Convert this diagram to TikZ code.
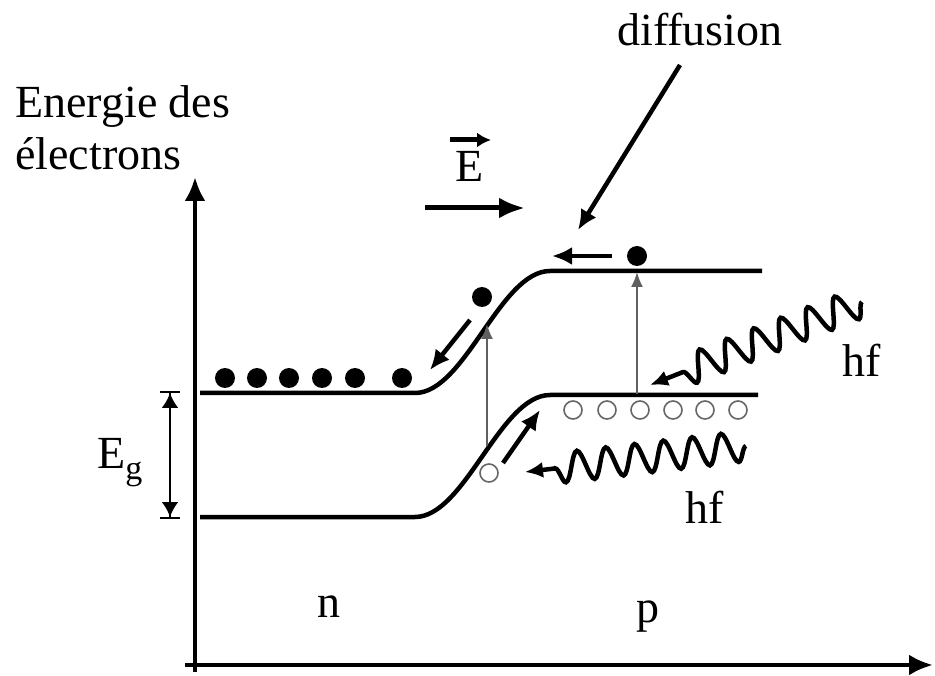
\documentclass[tikz,border=0pt]{standalone}
\usepackage{fontspec}
\setmainfont{Liberation Serif}
\usetikzlibrary{arrows.meta, decorations.pathmorphing}

\tikzset{
  lbl/.style={font=\fontsize{46}{52}\selectfont, inner sep=0pt},
  axis/.style={line width=4.5pt, -{Latex[length=24pt,width=21pt]}},
  band/.style={line width=4.5pt},
  flow/.style={line width=4.5pt, -{Latex[length=20pt,width=18pt]}},
  jump/.style={line width=1.8pt, gray!75!black, -{Latex[length=15pt,width=12pt]}},
  photon/.style={line width=4.5pt, -{Latex[length=18pt,width=16pt]},
    decorate, decoration={snake, amplitude=15pt, segment length=29pt, post length=30pt}},
  electron/.style={circle, fill=black, inner sep=0pt, minimum size=20pt},
  hole/.style={circle, draw=gray!80!black, line width=1.6pt, inner sep=0pt, minimum size=18pt}
}

\begin{document}
\begin{tikzpicture}[x=1pt, y=-1pt]
    \useasboundingbox (0,0) rectangle (935,676);

    % Axes
    \coordinate (yfoot) at (195,672);
    \coordinate (ytop) at (195,177);
    \coordinate (xfoot) at (185,665);
    \coordinate (xend) at (933,665);
    \draw[axis] (yfoot) -- (ytop);
    \draw[axis] (xfoot) -- (xend);
    \node[lbl, anchor=base west] (title1) at (15,118) {Energie des};
    \node[lbl, anchor=base west] (title2) at (15,170) {électrons};

    % Bands
    \draw[band] (200,393) -- (415,393)
        .. controls (465,393) and (500,271) .. (550,271) -- (762,271);
    \draw[band] (200,517) -- (415,517)
        .. controls (465,517) and (500,395) .. (550,395) -- (758,395);

    % Gap
    \coordinate (gtop) at (170,391);
    \coordinate (gbot) at (170,519);
    \draw[line width=2.5pt, {Bar[width=20pt,line width=2pt]Latex[length=15pt,width=17pt]}-{Latex[length=15pt,width=17pt]Bar[width=20pt,line width=2pt]}]
        (gtop) -- (gbot);
    \node[lbl, anchor=base west] (gap) at (97,468) {E\raisebox{-11pt}{\fontsize{34}{38}\selectfont g}};

    % Electrons and holes
    \foreach \x in {225,257,289,322,355,402}
        \node[electron] (e\x) at (\x,378) {};
    \foreach \x in {573,607,640,673,705,738}
        \node[hole] (h\x) at (\x,410) {};
    \node[electron] (eslope) at (482,297) {};
    \node[electron] (ep) at (637,256) {};
    \node[hole] (hslope) at (489,473) {};

    % Transitions
    \coordinate (v1a) at (487,446);
    \coordinate (v1b) at (487,324);
    \coordinate (v2a) at (637,394);
    \coordinate (v2b) at (637,272);
    \draw[jump] (v1a) -- (v1b);
    \draw[jump] (v2a) -- (v2b);

    % Drift and diffusion
    \coordinate (d1a) at (612,256);
    \coordinate (d1b) at (552,256);
    \coordinate (d2a) at (470,320);
    \coordinate (d2b) at (430,370);
    \coordinate (d3a) at (503,463);
    \coordinate (d3b) at (540,410);
    \draw[flow] (d1a) -- (d1b);
    \draw[flow] (d2a) -- (d2b);
    \draw[flow] (d3a) -- (d3b);

    % Field
    \node[lbl, anchor=base] (field) at (470,182) {E};
    \coordinate (fva) at (450,140);
    \coordinate (fvb) at (491,140);
    \draw[line width=5pt, -{Latex[length=14pt,width=15pt]}] (fva) -- (fvb);
    \coordinate (fa) at (425,208);
    \coordinate (fb) at (525,208);
    \draw[line width=5pt, -{Latex[length=26pt,width=21pt]}] (fa) -- (fb);

    % Diffusion label
    \node[lbl, anchor=base] (diff) at (700,46) {diffusion};
    \coordinate (pa) at (680,65);
    \coordinate (pb) at (578,230);
    \draw[flow] (pa) -- (pb);

    % Photons
    \coordinate (ph1a) at (862,302);
    \coordinate (ph1b) at (650,385);
    \coordinate (ph2a) at (746,446);
    \coordinate (ph2b) at (525,472);
    \draw[photon] (ph1a) -- (ph1b);
    \draw[photon] (ph2a) -- (ph2b);
    \node[lbl, anchor=base west] (hf1) at (842,377) {hf};
    \node[lbl, anchor=base west] (hf2) at (685,523) {hf};

    % Regions
    \node[lbl, anchor=base west] (nreg) at (317,617) {n};
    \node[lbl, anchor=base west] (preg) at (636,622) {p};
\end{tikzpicture}
\end{document}
